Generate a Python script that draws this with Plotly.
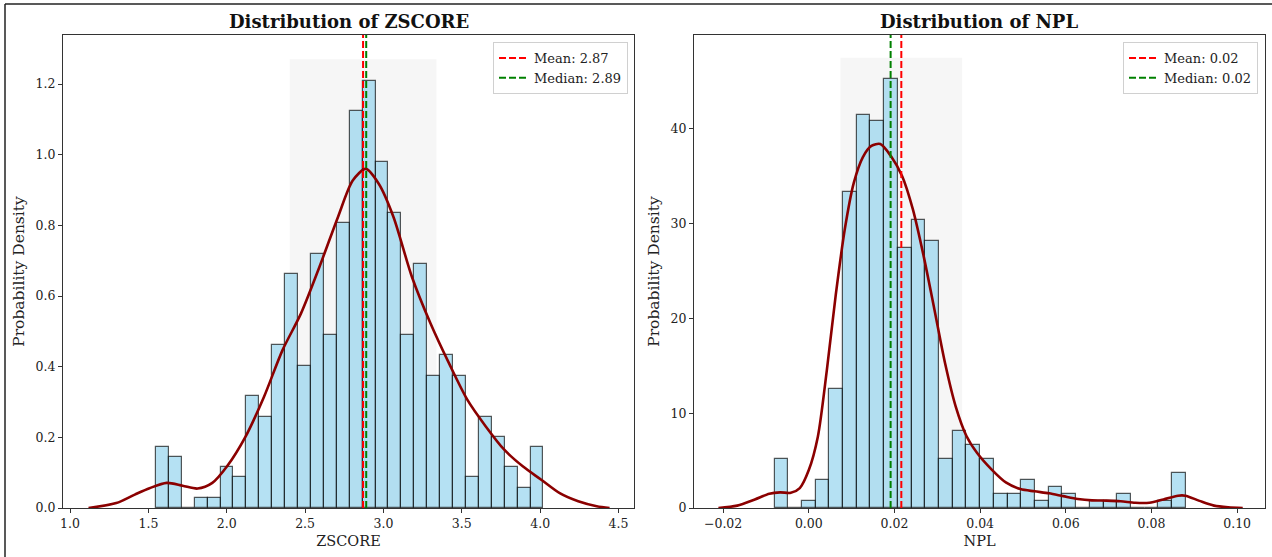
import numpy as np
import plotly.graph_objects as go

# ---------------- data ----------------
# ZSCORE histogram: 30 bins between edges 1.548 and 4.021 (density)
z_edge_lo, z_edge_hi = 1.548, 4.021
z_density = [0.172, 0.144, 0.0, 0.028, 0.028, 0.115, 0.087, 0.316, 0.259, 0.461,
             0.662, 0.403, 0.720, 0.491, 0.807, 1.124, 1.210, 0.979, 0.835, 0.491,
             0.691, 0.374, 0.432, 0.374, 0.087, 0.259, 0.201, 0.115, 0.057, 0.172]
z_kde_x = [1.118, 1.295, 1.413, 1.507, 1.617, 1.719, 1.814, 1.908, 2.002, 2.12,
           2.238, 2.356, 2.474, 2.592, 2.71, 2.804, 2.887, 2.97, 3.064, 3.182,
           3.3, 3.418, 3.536, 3.653, 3.771, 3.889, 4.007, 4.125, 4.243, 4.361, 4.443]
z_kde_y = [0.0, 0.014, 0.038, 0.056, 0.071, 0.063, 0.055, 0.071, 0.118, 0.202,
           0.315, 0.447, 0.551, 0.683, 0.824, 0.927, 0.960, 0.918, 0.824, 0.654,
           0.523, 0.41, 0.306, 0.231, 0.165, 0.118, 0.08, 0.042, 0.019, 0.005, 0.0]
z_mean, z_median, z_std = 2.87, 2.89, 0.468
z_band_top = 1.27
z_ymax = 1.339

# NPL histogram: 30 bins between edges -0.0080 and 0.0880 (density)
n_edge_lo, n_edge_hi = -0.0080, 0.0880
n_density = [5.18, 0.0, 0.74, 2.92, 12.57, 33.35, 41.5, 40.8, 45.25, 27.43,
             30.39, 28.2, 5.18, 8.13, 6.65, 5.18, 1.44, 1.44, 2.92, 0.74,
             2.18, 1.44, 0.0, 0.74, 0.74, 1.44, 0.0, 0.0, 0.74, 3.70]
n_kde_x = [-0.0211, -0.0167, -0.0126, -0.0092, -0.0067, -0.0042, -0.0021, 0.0, 0.0021, 0.0042,
           0.0063, 0.0084, 0.0105, 0.0126, 0.0146, 0.0167, 0.0192, 0.0218, 0.0243, 0.0268,
           0.0293, 0.0318, 0.0343, 0.0368, 0.0393, 0.0427, 0.046, 0.0494, 0.0527, 0.0561,
           0.0594, 0.0628, 0.0661, 0.0695, 0.0728, 0.0762, 0.0795, 0.0828, 0.0862, 0.0879,
           0.0912, 0.0946, 0.0979, 0.1013]
n_kde_y = [0.0, 0.25, 0.9, 1.5, 1.65, 1.6, 2.1, 4.0, 7.5, 14.5,
           22.5, 29.4, 34.3, 37.0, 38.2, 38.4, 37.1, 35.0, 31.5, 26.6,
           21.0, 15.3, 10.7, 7.6, 5.8, 4.05, 2.7, 2.0, 1.76, 1.55,
           1.25, 0.95, 0.8, 0.78, 0.72, 0.55, 0.55, 0.9, 1.3, 1.3,
           0.75, 0.25, 0.07, 0.0]
n_mean, n_median, n_std = 0.0216, 0.0191, 0.0142
n_band_top = 47.5
n_ymax = 49.9

titles = ["Distribution of ZSCORE", "Distribution of NPL"]
xlabels = ["ZSCORE", "NPL"]
ylabel = "Probability Density"

# ---------------- figure ----------------
W, H = 1272, 557
FONT = "DejaVu Serif"
fig = go.Figure()

def px_x(p):
    return p / W

def px_y(p):
    return 1 - p / H

panels = [
    dict(xa="x", ya="y", lo=z_edge_lo, hi=z_edge_hi, dens=z_density, kx=z_kde_x, ky=z_kde_y,
         mean=z_mean, med=z_median, std=z_std, btop=z_band_top, ymax=z_ymax,
         mean_lbl="Mean: 2.87", med_lbl="Median: 2.89", legend="legend"),
    dict(xa="x2", ya="y2", lo=n_edge_lo, hi=n_edge_hi, dens=n_density, kx=n_kde_x, ky=n_kde_y,
         mean=n_mean, med=n_median, std=n_std, btop=n_band_top, ymax=n_ymax,
         mean_lbl="Mean: 0.02", med_lbl="Median: 0.02", legend="legend2"),
]

for p in panels:
    edges = np.linspace(p["lo"], p["hi"], len(p["dens"]) + 1)
    centers = (edges[:-1] + edges[1:]) / 2
    width = edges[1] - edges[0]
    # shaded mean +/- std band
    fig.add_shape(type="rect", xref=p["xa"], yref=p["ya"],
                  x0=p["mean"] - p["std"], x1=p["mean"] + p["std"], y0=0, y1=p["btop"],
                  fillcolor="rgba(128,128,128,0.07)", line=dict(width=0), layer="below")
    fig.add_trace(go.Bar(x=centers, y=p["dens"], width=width, xaxis=p["xa"], yaxis=p["ya"],
                         marker=dict(color="rgba(135,206,235,0.62)",
                                     line=dict(color="rgba(0,0,0,0.65)", width=1.2)),
                         showlegend=False, hoverinfo="skip"))
    fig.add_trace(go.Scatter(x=p["kx"], y=p["ky"], mode="lines", xaxis=p["xa"], yaxis=p["ya"],
                             line=dict(color="#8B0000", width=2.6, shape="spline", smoothing=0.8),
                             showlegend=False, hoverinfo="skip"))
    fig.add_trace(go.Scatter(x=[p["mean"], p["mean"]], y=[0, p["ymax"]], mode="lines",
                             xaxis=p["xa"], yaxis=p["ya"], name=p["mean_lbl"], legend=p["legend"],
                             line=dict(color="red", width=2, dash="7px,3px")))
    fig.add_trace(go.Scatter(x=[p["med"], p["med"]], y=[0, p["ymax"]], mode="lines",
                             xaxis=p["xa"], yaxis=p["ya"], name=p["med_lbl"], legend=p["legend"],
                             line=dict(color="green", width=2, dash="7px,3px")))

axis_common = dict(showline=True, linecolor="#333", linewidth=1.2, mirror=True,
                   ticks="outside", ticklen=4, tickwidth=1, tickcolor="#333",
                   showgrid=False, zeroline=False, automargin=False,
                   tickfont=dict(family=FONT, size=12.5, color="#222"))

dom_x1 = [px_x(63), px_x(634)]
dom_x2 = [px_x(694), px_x(1265)]
dom_y = [px_y(508), px_y(35)]

xfont = dict(family=FONT, size=14.5, color="#222")
yfont = dict(family=FONT, size=15.5, color="#222")

fig.update_layout(
    width=W, height=H, autosize=False, margin=dict(l=0, r=0, t=0, b=0, pad=0, autoexpand=False),
    paper_bgcolor="white", plot_bgcolor="white", bargap=0,
    xaxis=dict(domain=dom_x1, range=[0.955, 4.599], dtick=0.5, tick0=1.0, tickformat=".1f",
               title=dict(text=xlabels[0], font=xfont, standoff=5),
               anchor="y", **axis_common),
    yaxis=dict(domain=dom_y, range=[0, z_ymax], dtick=0.2, tickformat=".1f",
               title=dict(text=ylabel, font=yfont, standoff=7),
               anchor="x", **axis_common),
    xaxis2=dict(domain=dom_x2, range=[-0.0268, 0.1065], dtick=0.02, tick0=0, tickformat=".2f",
                title=dict(text=xlabels[1], font=xfont, standoff=5),
                anchor="y2", **axis_common),
    yaxis2=dict(domain=dom_y, range=[0, n_ymax], dtick=10,
                title=dict(text=ylabel, font=yfont, standoff=7),
                anchor="x2", **axis_common),
    legend=dict(x=px_x(628), y=px_y(42), xanchor="right", yanchor="top",
                bgcolor="rgba(255,255,255,0.9)", bordercolor="#d0d0d0", borderwidth=1,
                font=dict(family=FONT, size=13, color="#222"), itemwidth=30, tracegroupgap=0),
    legend2=dict(x=px_x(1258), y=px_y(42), xanchor="right", yanchor="top",
                 bgcolor="rgba(255,255,255,0.9)", bordercolor="#d0d0d0", borderwidth=1,
                 font=dict(family=FONT, size=13, color="#222"), itemwidth=30, tracegroupgap=0),
)

for i, t in enumerate(titles):
    cx = (dom_x1 if i == 0 else dom_x2)
    fig.add_annotation(text="<b>" + t + "</b>", xref="paper", yref="paper",
                       x=(cx[0] + cx[1]) / 2, y=px_y(21), xanchor="center", yanchor="middle",
                       showarrow=False, font=dict(family=FONT, size=18, color="#111"))

# outer frame lines (top and left) as in the screenshot
fig.add_shape(type="line", xref="paper", yref="paper", x0=px_x(5), x1=1, y0=px_y(4), y1=px_y(4),
              line=dict(color="#222", width=1.5))
fig.add_shape(type="line", xref="paper", yref="paper", x0=px_x(5), x1=px_x(5), y0=0, y1=px_y(4),
              line=dict(color="#222", width=1.5))

fig.write_html("out.html",
               config={"displayModeBar": False, "responsive": False},
               post_script="document.body.style.margin='0px';document.body.style.overflow='hidden';")
